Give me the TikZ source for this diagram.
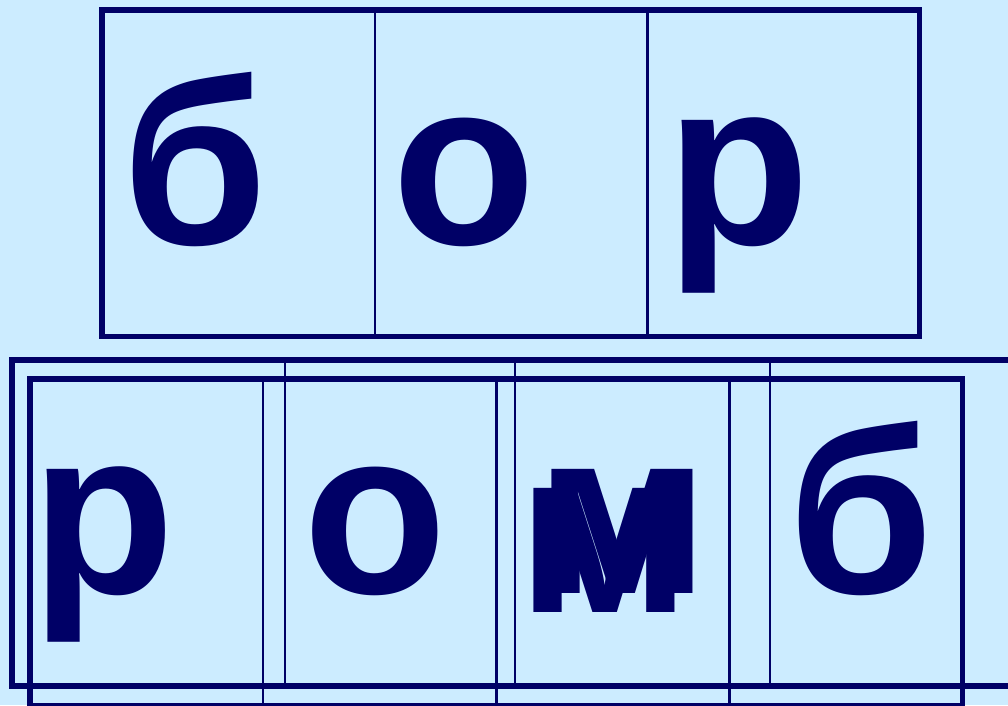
\documentclass[tikz,border=0pt]{standalone}
\usepackage{fontspec}
\setmainfont{Liberation Sans}
\definecolor{fon}{HTML}{CCECFF}
\definecolor{chernila}{HTML}{000066}
\tikzset{
	ramka/.style={draw=chernila,line width=5.5pt},
	peregorodka/.style={draw=chernila,line width=2.3pt},
	bukva/.style={anchor=base west,inner sep=0pt,text=chernila,font=\fontsize{235}{235}\selectfont\bfseries}
}
\begin{document}
\begin{tikzpicture}[x=1pt,y=-1pt,line join=miter]
			\fill[fon] (0,0) rectangle (1008,705);
			\useasboundingbox (0,0) rectangle (1008,705);
			% nizhnyaya setka, sdvinutaya
			\draw[peregorodka] (285,360) -- (285,686) (515,360) -- (515,686) (770,360) -- (770,686);
			\draw[ramka] (12,360) rectangle (1040,686);
			% nizhnyaya setka
			\draw[peregorodka] (263,379) -- (263,705.5) (496.5,379) -- (496.5,705.5) (729.5,379) -- (729.5,705.5);
			\draw[ramka] (30,379) rectangle (962.5,705.5);
			% verkhnyaya setka
			\draw[peregorodka] (375,10) -- (375,336.5) (647.5,10) -- (647.5,336.5);
			\draw[ramka] (102,10) rectangle (919.5,336.5);
			% bukvy
			\node[bukva] (b1) at (122,244) {б};
			\node[bukva] (o1) at (392,244) {о};
			\node[bukva] (r1) at (666,244) {р};
			\node[bukva] (r2) at (31,593) {р};
			\node[bukva] (o2) at (303,593) {о};
			\node[bukva] (m2) at (535,593) {м};
			\node[bukva] (m3) at (517,612) {м};
			\node[bukva] (b2) at (788,593) {б};
	\end{tikzpicture}
\end{document}
